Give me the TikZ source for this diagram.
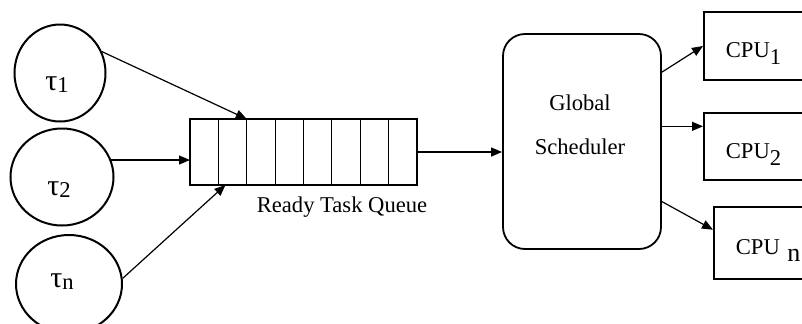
\documentclass[tikz,border=0pt]{standalone}
\usepackage{fontspec}
\setmainfont{Liberation Serif}
\usetikzlibrary{arrows.meta, positioning, calc, shapes.geometric}

\tikzset{
  task/.style={draw, ellipse, line width=1pt, inner sep=0pt},
  tasklabel/.style={anchor=base west, inner sep=0pt, font=\fontsize{15}{15}\selectfont},
  cell/.style={draw, line width=0.6pt, minimum width=14.19pt, minimum height=33pt, inner sep=0pt, outer sep=0pt},
  sched/.style={draw, rounded corners=11pt, line width=0.9pt, minimum width=79pt, minimum height=107.5pt},
  cpu/.style={draw, anchor=west, line width=0.9pt, text width=45pt, text height=11.5pt, text depth=0pt, align=left, inner xsep=11pt},
  link/.style={-{Triangle[length=5.5pt,width=4.5pt]}, line width=0.6pt},
}
\newcommand{\idx}[1]{\raisebox{-3.5pt}{#1}}
\newcommand{\tidx}[1]{\raisebox{-1pt}{\fontsize{11.3}{11}\selectfont #1}}

\begin{document}
\begin{tikzpicture}[x=0.5pt, y=-0.5pt, font=\fontsize{11.3}{13}\selectfont]
  \useasboundingbox (0,0) rectangle (802,323);

  % tasks
  \node[task, minimum width=45.5pt, minimum height=48.5pt] (t1) at (60,73) {};
  \node[task, minimum width=51.5pt, minimum height=48.5pt] (t2) at (62,177) {};
  \node[task, minimum width=53pt, minimum height=49pt] (tn) at (69,284) {};
  \node[tasklabel] (t1txt) at (45,90) {τ\tidx{1}};
  \node[tasklabel] (t2txt) at (47,195) {τ\tidx{2}};
  \node[tasklabel] (tntxt) at (50,287) {τ\tidx{n}};

  % ready queue, eight slots
  \foreach \i in {1,...,8}
    \node[cell] (c\i) at ({190+28.375*(\i-0.5)},152) {};
  \node (qlabel) at (342,207) {Ready Task Queue};

  % scheduler
  \node[sched] (sched) at (582,141.5) {};
  \node[align=center, font=\fontsize{11.3}{22}\selectfont] (schedtxt) at (580,125) {Global\\Scheduler};

  % processors
  \node[cpu, minimum height=34pt] (cpu1) at (703,46) {CPU\idx{1}};
  \node[cpu, minimum height=33.5pt] (cpu2) at (703,146.5) {CPU\idx{2}};
  \node[cpu, minimum height=36pt] (cpun) at (713,243) {CPU \idx{\fontsize{13}{13}\selectfont n}};

  \coordinate (s1) at ($(sched.north east)!0.18!(sched.south east)$);
  \coordinate (s2) at ($(sched.north east)!0.43!(sched.south east)$);
  \coordinate (s3) at ($(sched.north east)!0.777!(sched.south east)$);

  % connectors
  \draw[link] (t1.27) -- (c3.north west);
  \draw[link] (t2.19) -- (t2.19 -| c1.west);
  \draw[link] (tn.6) -- ($(c2.south west)!0.25!(c2.south east)$);
  \draw[link] (c8.east) -- (c8.east -| sched.west);
  \draw[link] (s1) -- (cpu1.west);
  \draw[link] (s2) -- (s2 -| cpu2.west);
  \draw[link] (s3) -- ($(cpun.north west)!0.32!(cpun.south west)$);
\end{tikzpicture}
\end{document}
